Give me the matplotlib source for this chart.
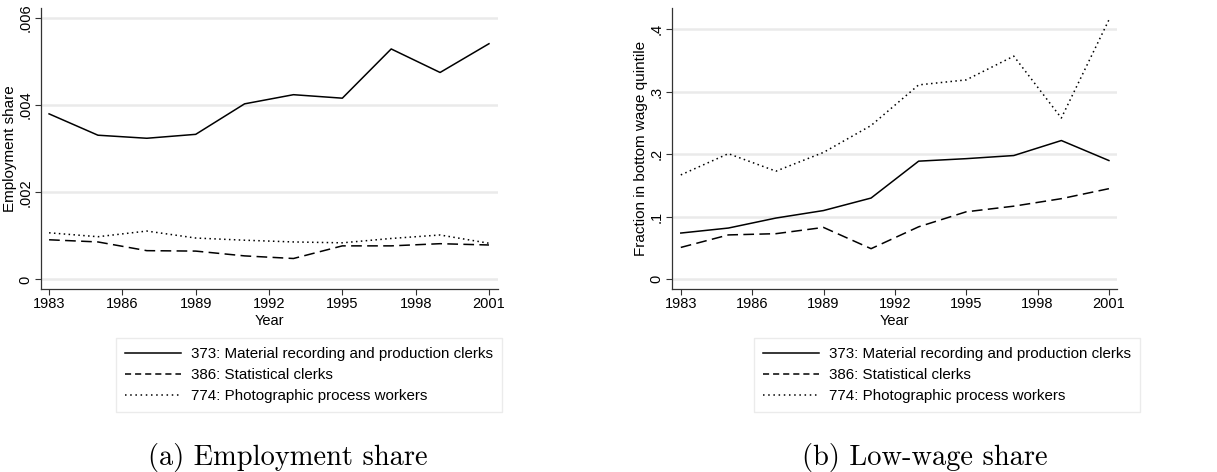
import numpy as np
import matplotlib
matplotlib.use("Agg")
import matplotlib.pyplot as plt

years = [1983, 1985, 1987, 1989, 1991, 1993, 1995, 1997, 1999, 2001]
labels = ["373: Material recording and production clerks",
          "386: Statistical clerks",
          "774: Photographic process workers"]

# employment share by occupation
emp_373 = [0.00380, 0.00331, 0.00324, 0.00333, 0.00403, 0.00424, 0.00416, 0.00529, 0.00475, 0.00541]
emp_386 = [0.00091, 0.00086, 0.00066, 0.00065, 0.00054, 0.00048, 0.00077, 0.00077, 0.00082, 0.00079]
emp_774 = [0.00107, 0.00098, 0.00111, 0.00095, 0.00090, 0.00086, 0.00084, 0.00094, 0.00102, 0.00083]

# fraction in bottom wage quintile
low_373 = [0.074, 0.082, 0.098, 0.110, 0.130, 0.189, 0.193, 0.198, 0.222, 0.190]
low_386 = [0.051, 0.071, 0.073, 0.083, 0.049, 0.084, 0.108, 0.117, 0.129, 0.145]
low_774 = [0.167, 0.201, 0.173, 0.203, 0.246, 0.311, 0.319, 0.357, 0.258, 0.415]

xticks = [1983, 1986, 1989, 1992, 1995, 1998, 2001]

plt.rcParams['font.family'] = ['Liberation Sans', 'DejaVu Sans']

W, H = 1217, 472
fig = plt.figure(figsize=(W / 100, H / 100), dpi=100)

def px_axes(l, t, r, b):
    return fig.add_axes([l / W, 1 - b / H, (r - l) / W, (b - t) / H])

styles = [dict(ls='-'), dict(ls=(0, (7, 3.5))), dict(ls=(0, (1, 2.2)))]
leg_styles = [dict(ls='-'), dict(ls=(0, (4, 2.6))), dict(ls=(0, (1, 2.4)))]

def panel(ax, series, yticks, yticklabels, ylim, xlim, ylabel):
    for s in yticks:
        ax.axhline(s, color='#eaeaea', lw=1.8, zorder=0)
    for vals, st in zip(series, styles):
        ax.plot(years, vals, color='black', lw=1.1, **st)
    ax.set_xlim(*xlim)
    ax.set_ylim(*ylim)
    ax.set_xticks(xticks)
    ax.set_yticks(yticks)
    ax.set_yticklabels(yticklabels, rotation=90, va='center')
    ax.tick_params(labelsize=10.5, length=4.5, width=0.8, color='#333333', pad=1.5)
    for side in ['top', 'right']:
        ax.spines[side].set_visible(False)
    for side in ['left', 'bottom']:
        ax.spines[side].set_linewidth(0.9)
        ax.spines[side].set_color('#333333')
    ax.set_xlabel('Year', fontsize=10.5, labelpad=2)
    ax.set_ylabel(ylabel, fontsize=11, labelpad=1.5)

ax1 = px_axes(41, 8, 498, 289)
panel(ax1, [emp_373, emp_386, emp_774], [0, 0.002, 0.004, 0.006],
      ['0', '.002', '.004', '.006'], (-0.00022, 0.00623), (1982.67, 2001.37),
      'Employment share')

ax2 = px_axes(672, 8, 1117, 289)
panel(ax2, [low_373, low_386, low_774], [0, 0.1, 0.2, 0.3, 0.4],
      ['0', '.1', '.2', '.3', '.4'], (-0.0155, 0.434), (1982.63, 2001.34),
      'Fraction in bottom wage quintile')

# legends below each panel, with their own handle patterns
for cx in [309 / W, 947 / W]:
    handles = [plt.Line2D([], [], color='black', lw=1.1, **st) for st in leg_styles]
    fig.legend(handles, labels, loc='upper center', bbox_to_anchor=(cx, 1 - 338 / H),
               fontsize=10.9, frameon=True, fancybox=False, edgecolor='#e6e6e6',
               handlelength=3.7, handletextpad=0.67, labelspacing=0.47,
               borderpad=0.6, borderaxespad=0)

fig.text(288 / W, 1 - 458 / H, '(a) Employment share', family='cmr10',
         fontsize=20.5, ha='center', va='center')
fig.text(925 / W, 1 - 458 / H, '(b) Low-wage share', family='cmr10',
         fontsize=20.5, ha='center', va='center')

fig.savefig('out.png', dpi=100)
